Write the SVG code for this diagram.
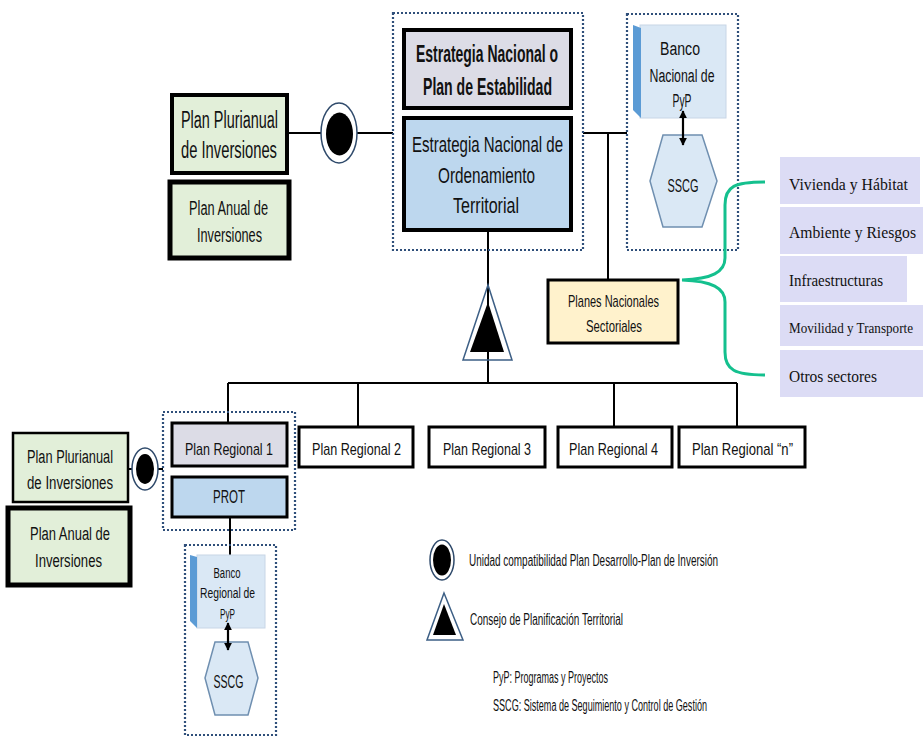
<svg xmlns="http://www.w3.org/2000/svg" width="923" height="736" viewBox="0 0 923 736">
<style>
.t{font-family:"Liberation Sans",Arial,sans-serif;fill:#111;}
.c{text-anchor:middle;}
.s{font-family:"Liberation Serif","Times New Roman",serif;fill:#111;}
.dot{fill:none;stroke:#2f4f7a;stroke-width:2.2;stroke-dasharray:2 2;}
.ln{fill:none;stroke:#000;stroke-width:2;}
.thick{stroke:#000;stroke-width:4;}
.green{fill:#e2efd9;}
.gray{fill:#dcdce6;}
.blue{fill:#bdd7ee;}
.wb{fill:#fff;stroke:#000;stroke-width:3;}
.lav{fill:#dcdcf5;}
.bank{fill:#dae8f5;stroke:#c8d6e6;stroke-width:1;}
.bevel{fill:#5b9bd5;}
.hex{fill:#dae8f5;stroke:#6f8fb0;stroke-width:1.5;}
.ring{fill:#fff;stroke:#2f4a6b;stroke-width:1.5;}
</style>
<defs>
<marker id="ah" viewBox="0 0 10 10" refX="9" refY="5" markerWidth="3.5" markerHeight="3.5" orient="auto-start-reverse"><path d="M0,0 L10,5 L0,10 z" fill="#000"/></marker>
</defs>
<rect width="923" height="736" fill="#fff"/>

<g id="connectors">
<line class="ln" x1="287" y1="133" x2="393" y2="133"/>
<line class="ln" x1="583" y1="133" x2="627" y2="133"/>
<line class="ln" x1="608" y1="133" x2="608" y2="280"/>
<line class="ln" x1="488" y1="230" x2="488" y2="383"/>
<line class="ln" x1="228" y1="383" x2="737" y2="383"/>
<line class="ln" x1="228" y1="383" x2="228" y2="423"/>
<line class="ln" x1="358" y1="383" x2="358" y2="427"/>
<line class="ln" x1="614" y1="383" x2="614" y2="427"/>
<line class="ln" x1="737" y1="383" x2="737" y2="427"/>
<line class="ln" x1="128" y1="469" x2="163" y2="469"/>
<line class="ln" x1="230" y1="517" x2="230" y2="555"/>
</g>

<g id="plan-plurianual-top">
<rect class="green thick" x="172" y="95" width="115" height="78"/>
<text class="t c" x="229.5" y="128" font-size="23" textLength="97" lengthAdjust="spacingAndGlyphs">Plan Plurianual</text>
<text class="t c" x="229" y="158" font-size="23" textLength="96" lengthAdjust="spacingAndGlyphs">de Inversiones</text>
</g>
<g id="plan-anual-top">
<rect class="green" x="170" y="182" width="119" height="76" stroke="#000" stroke-width="5"/>
<text class="t c" x="228.5" y="215" font-size="20" textLength="79" lengthAdjust="spacingAndGlyphs">Plan Anual de</text>
<text class="t c" x="229.5" y="242" font-size="20" textLength="65" lengthAdjust="spacingAndGlyphs">Inversiones</text>
</g>
<g id="unidad-top">
<ellipse class="ring" cx="339" cy="133" rx="18" ry="30"/>
<ellipse cx="339.5" cy="134" rx="13.5" ry="21.5" fill="#000"/>
</g>

<g id="nacional-group">
<rect class="dot" x="393" y="13" width="190" height="237"/>
</g>
<g id="estrategia-nacional">
<rect class="gray thick" x="404" y="30" width="167" height="78"/>
<text class="t c" x="487" y="62" font-size="23" font-weight="bold" textLength="142" lengthAdjust="spacingAndGlyphs">Estrategia Nacional o</text>
<text class="t c" x="487.5" y="95" font-size="23" font-weight="bold" textLength="129" lengthAdjust="spacingAndGlyphs">Plan de Estabilidad</text>
</g>
<g id="enot">
<rect class="blue thick" x="404" y="118" width="167" height="112"/>
<text class="t c" x="487.5" y="152" font-size="22" textLength="151" lengthAdjust="spacingAndGlyphs">Estrategia Nacional de</text>
<text class="t c" x="486.5" y="183" font-size="22" textLength="97" lengthAdjust="spacingAndGlyphs">Ordenamiento</text>
<text class="t c" x="486" y="213" font-size="22" textLength="66" lengthAdjust="spacingAndGlyphs">Territorial</text>
</g>

<g id="banco-nacional-group">
<rect class="dot" x="627" y="14" width="111" height="236"/>
</g>
<g id="banco-nacional">
<rect class="bank" x="640" y="25" width="86" height="93"/>
<polygon class="bevel" points="633,25 641,28 641,118 633,110"/>
<text class="t c" x="680" y="55" font-size="18" textLength="40" lengthAdjust="spacingAndGlyphs">Banco</text>
<text class="t c" x="682" y="82" font-size="18" textLength="65" lengthAdjust="spacingAndGlyphs">Nacional de</text>
<text class="t c" x="682" y="107" font-size="18" textLength="19" lengthAdjust="spacingAndGlyphs">PyP</text>
</g>
<g id="sscg-nacional">
<polygon class="hex" points="663,135 702,135 717,181 702,227 663,227 650,181"/>
<text class="t c" x="683" y="192" font-size="18" textLength="31" lengthAdjust="spacingAndGlyphs">SSCG</text>
</g>

<g id="consejo-top">
<polygon points="488,285 463,360 512,360" fill="none" stroke="#3d5f85" stroke-width="1.5"/>
<polygon points="488,302 470,352 504,352" fill="#000"/>
</g>

<g id="planes-nacionales">
<rect fill="#fff2cc" stroke="#000" stroke-width="3" x="548" y="280" width="130" height="63"/>
<text class="t c" x="613.5" y="307" font-size="17" textLength="91" lengthAdjust="spacingAndGlyphs">Planes Nacionales</text>
<text class="t c" x="614" y="332" font-size="17" textLength="56" lengthAdjust="spacingAndGlyphs">Sectoriales</text>
</g>

<g id="sector-vivienda">
<rect class="lav" x="780" y="157" width="140" height="47"/>
<text class="s" x="789" y="190" font-size="17" textLength="119" lengthAdjust="spacingAndGlyphs">Vivienda y Hábitat</text>
</g>
<g id="sector-ambiente">
<rect class="lav" x="780" y="207" width="143" height="47"/>
<text class="s" x="789" y="238" font-size="16.5" textLength="127" lengthAdjust="spacingAndGlyphs">Ambiente y Riesgos</text>
</g>
<g id="sector-infra">
<rect class="lav" x="780" y="256" width="127" height="46"/>
<text class="s" x="789" y="286" font-size="17" textLength="94" lengthAdjust="spacingAndGlyphs">Infraestructuras</text>
</g>
<g id="sector-movilidad">
<rect class="lav" x="780" y="305" width="143" height="41"/>
<text class="s" x="789" y="333" font-size="14" textLength="124" lengthAdjust="spacingAndGlyphs">Movilidad y Transporte</text>
</g>
<g id="sector-otros">
<rect class="lav" x="780" y="350" width="143" height="47"/>
<text class="s" x="789" y="382" font-size="17" textLength="88" lengthAdjust="spacingAndGlyphs">Otros sectores</text>
</g>

<g id="regional-group">
<rect class="dot" x="163" y="412" width="132" height="118"/>
</g>
<g id="plan-regional-1">
<rect class="gray" stroke="#000" stroke-width="3" x="172" y="423" width="115" height="43"/>
<text class="t c" x="229" y="455" font-size="17" textLength="88" lengthAdjust="spacingAndGlyphs">Plan Regional 1</text>
</g>
<g id="prot">
<rect class="blue" stroke="#000" stroke-width="3" x="172" y="477" width="115" height="40"/>
<text class="t c" x="229" y="503" font-size="18" textLength="32" lengthAdjust="spacingAndGlyphs">PROT</text>
</g>
<g id="plan-regional-2">
<rect class="wb" x="299" y="427" width="114" height="40"/>
<text class="t c" x="356.5" y="455" font-size="17" textLength="89" lengthAdjust="spacingAndGlyphs">Plan Regional 2</text>
</g>
<g id="plan-regional-3">
<rect class="wb" x="429" y="427" width="116" height="40"/>
<text class="t c" x="487" y="455" font-size="17" textLength="88" lengthAdjust="spacingAndGlyphs">Plan Regional 3</text>
</g>
<g id="plan-regional-4">
<rect class="wb" x="558" y="427" width="114" height="40"/>
<text class="t c" x="613.5" y="455" font-size="17" textLength="89" lengthAdjust="spacingAndGlyphs">Plan Regional 4</text>
</g>
<g id="plan-regional-n">
<rect class="wb" x="679" y="427" width="126" height="40"/>
<text class="t c" x="742.5" y="455" font-size="17" textLength="101" lengthAdjust="spacingAndGlyphs">Plan Regional “n”</text>
</g>

<g id="plan-plurianual-regional">
<rect class="green" stroke="#000" stroke-width="2.5" x="13" y="433" width="115" height="69"/>
<text class="t c" x="70" y="463" font-size="18" textLength="86" lengthAdjust="spacingAndGlyphs">Plan Plurianual</text>
<text class="t c" x="70" y="489" font-size="18" textLength="86" lengthAdjust="spacingAndGlyphs">de Inversiones</text>
</g>
<g id="plan-anual-regional">
<rect class="green" stroke="#000" stroke-width="5" x="8" y="508" width="122" height="77"/>
<text class="t c" x="70" y="540" font-size="18" textLength="80" lengthAdjust="spacingAndGlyphs">Plan Anual de</text>
<text class="t c" x="68.5" y="567" font-size="18" textLength="67" lengthAdjust="spacingAndGlyphs">Inversiones</text>
</g>
<g id="unidad-regional">
<ellipse class="ring" cx="145" cy="469" rx="13" ry="21"/>
<ellipse cx="145" cy="469" rx="9" ry="15" fill="#000"/>
</g>

<g id="banco-regional-group">
<rect class="dot" x="185" y="545" width="91" height="190"/>
</g>
<g id="banco-regional">
<rect class="bank" x="197" y="555" width="68" height="73"/>
<polygon class="bevel" points="190,555 197,557 197,628 190,621"/>
<text class="t c" x="227" y="578" font-size="14" textLength="27" lengthAdjust="spacingAndGlyphs">Banco</text>
<text class="t c" x="227.5" y="598" font-size="14" textLength="55" lengthAdjust="spacingAndGlyphs">Regional de</text>
<text class="t c" x="227.5" y="619" font-size="14" textLength="15" lengthAdjust="spacingAndGlyphs">PyP</text>
</g>
<g id="sscg-regional">
<polygon class="hex" points="215,642 248,642 258,678 248,715 215,715 205,678"/>
<text class="t c" x="228.5" y="688" font-size="18" textLength="30" lengthAdjust="spacingAndGlyphs">SSCG</text>
</g>

<g id="links">
<line stroke="#000" stroke-width="2.2" x1="683" y1="111" x2="683" y2="145" marker-start="url(#ah)" marker-end="url(#ah)"/>
<line stroke="#000" stroke-width="2.2" x1="228" y1="623" x2="228" y2="650" marker-start="url(#ah)" marker-end="url(#ah)"/>
<path d="M765,182 C735,182 725,186 725,205 L725,258 C725,272 712,279 682,280 C712,281 725,288 725,302 L725,352 C725,370 735,375 765,375" fill="none" stroke="#14c08e" stroke-width="3"/>
</g>

<g id="legend">
<ellipse class="ring" cx="442" cy="560" rx="12" ry="20"/>
<ellipse cx="442" cy="560" rx="9" ry="15.5" fill="#000"/>
<text class="t" x="469" y="566" font-size="16" textLength="249" lengthAdjust="spacingAndGlyphs">Unidad compatibilidad Plan Desarrollo-Plan de Inversión</text>
<polygon points="444,593 427,640 463,640" fill="none" stroke="#3d5f85" stroke-width="1.5"/>
<polygon points="444,604 433,635 456,635" fill="#000"/>
<text class="t" x="470" y="625" font-size="16" textLength="153" lengthAdjust="spacingAndGlyphs">Consejo de Planificación Territorial</text>
<text class="t" x="493" y="683" font-size="16" textLength="115" lengthAdjust="spacingAndGlyphs">PyP: Programas y Proyectos</text>
<text class="t" x="493" y="711" font-size="16" textLength="214" lengthAdjust="spacingAndGlyphs">SSCG: Sistema de Seguimiento y Control de Gestión</text>
</g>
</svg>
